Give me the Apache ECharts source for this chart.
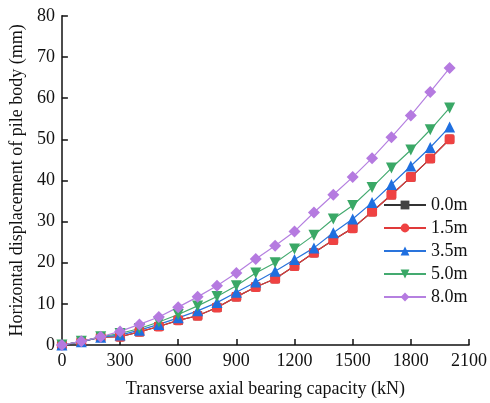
<!DOCTYPE html>
<html>
<head>
<meta charset="utf-8">
<script src="https://cdn.jsdelivr.net/npm/echarts@6/dist/echarts.min.js"></script>
<style>
  html, body { margin: 0; padding: 0; background: #fff; }
  #chart { width: 490px; height: 403px; }
</style>
</head>
<body>
<div id="chart"></div>
<script>
// Transverse load (kN)
const loads = [0, 100, 200, 300, 400, 500, 600, 700, 800, 900, 1000,
               1100, 1200, 1300, 1400, 1500, 1600, 1700, 1800, 1900, 2000];

// Horizontal displacement (mm) at each depth
const disp00 = [0, 0.8, 1.9, 2.0, 3.2, 4.5, 6.0, 7.1, 9.1, 11.7, 14.1,
                16.1, 19.2, 22.4, 25.5, 28.4, 32.4, 36.5, 40.8, 45.3, 50.0];
const disp15 = [0, 0.8, 1.9, 2.0, 3.2, 4.5, 6.0, 7.1, 9.1, 11.7, 14.1,
                16.1, 19.2, 22.4, 25.5, 28.4, 32.4, 36.5, 40.8, 45.3, 50.0];
const disp35 = [0, 0.8, 1.9, 2.4, 3.6, 5.0, 6.6, 8.3, 10.3, 12.8, 15.3,
                17.9, 20.8, 23.6, 27.3, 30.6, 34.6, 39.0, 43.5, 48.0, 53.0];
const disp50 = [0, 0.9, 2.0, 2.8, 4.0, 5.6, 7.4, 9.5, 11.8, 14.4, 17.5,
                20.0, 23.3, 26.7, 30.6, 33.9, 38.3, 43.0, 47.4, 52.3, 57.6];
const disp80 = [0, 0.9, 2.0, 3.3, 5.0, 6.8, 9.2, 11.7, 14.4, 17.5, 20.9,
                24.1, 27.6, 32.2, 36.5, 40.8, 45.4, 50.5, 55.8, 61.5, 67.3];

const seriesNames = ['0.0m', '1.5m', '3.5m', '5.0m', '8.0m'];

const FONT = '"Liberation Serif", "Times New Roman", serif';

function pairs(ys, sym) {
  return loads.map((x, i) => sym ? { value: [x, ys[i]], symbol: sym } : [x, ys[i]]);
}

function lineSeries(name, ys, color, markColor, symbol, size, pointSym) {
  return {
    name: name,
    type: 'line',
    data: pairs(ys, pointSym),
    symbol: symbol,
    symbolSize: size,
    showAllSymbol: true,
    lineStyle: { color: color, width: 1.2 },
    itemStyle: { color: markColor, borderWidth: 0 },
    emphasis: { disabled: true },
    animation: false
  };
}

const chart = echarts.init(document.getElementById('chart'));
chart.setOption({
  backgroundColor: '#fff',
  animation: false,
  grid: { left: 61.5, right: 17.7, top: 15.8, bottom: 56.5 },
  legend: {
    orient: 'vertical',
    left: 383,
    top: 196,
    itemWidth: 42,
    itemHeight: 11,
    itemGap: 5,
    padding: 0,
    data: seriesNames,
    textStyle: { fontFamily: FONT, fontSize: 18, color: '#111' }
  },
  xAxis: {
    type: 'value',
    min: 0,
    max: 2100,
    interval: 300,
    name: 'Transverse axial bearing capacity (kN)',
    nameLocation: 'middle',
    nameGap: 35,
    nameTextStyle: { fontFamily: FONT, fontSize: 18, color: '#111' },
    axisLine: { lineStyle: { color: '#111', width: 1.5 } },
    axisTick: { inside: true, length: 6, lineStyle: { color: '#111', width: 1.5 } },
    axisLabel: { fontFamily: FONT, fontSize: 18, color: '#111', margin: 7,
                 formatter: v => String(v) },
    splitLine: { show: false }
  },
  yAxis: {
    type: 'value',
    min: 0,
    max: 80,
    interval: 10,
    name: 'Horizontal displacement of pile body (mm)',
    nameLocation: 'middle',
    nameGap: 34,
    nameTextStyle: { fontFamily: FONT, fontSize: 18, color: '#111' },
    axisLine: { show: true, lineStyle: { color: '#111', width: 1.5 } },
    axisTick: { show: true, inside: true, length: 6, lineStyle: { color: '#111', width: 1.5 } },
    axisLabel: { fontFamily: FONT, fontSize: 18, color: '#111', margin: 7 },
    splitLine: { show: false }
  },
  series: [
    lineSeries('0.0m', disp00, '#333333', '#444444', 'rect', 9),
    lineSeries('1.5m', disp15, '#e03a3a', '#ef4242', 'circle', 10, 'roundRect'),
    lineSeries('3.5m', disp35, '#2a74dc', '#1f6fe0', 'triangle', 11),
    lineSeries('5.0m', disp50, '#44aa70', '#3aa866', 'path://M0,0 L10,0 L5,8.66 Z', 11),
    lineSeries('8.0m', disp80, '#b580e0', '#b57ae0', 'diamond', 12)
  ]
});
</script>
</body>
</html>
